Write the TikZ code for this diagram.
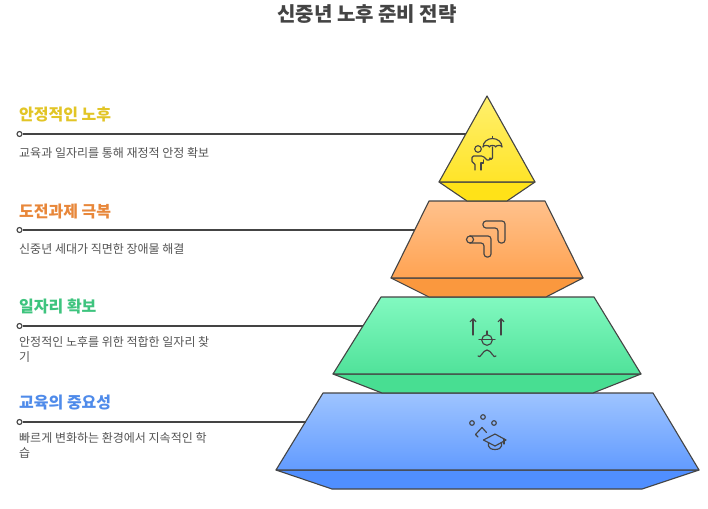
\documentclass[tikz,border=0pt]{standalone}
\usepackage{fontspec}
\setmainfont{Noto Sans CJK KR}
\usetikzlibrary{arrows.meta}
\definecolor{ink}{HTML}{444444}
\definecolor{desc}{HTML}{555555}
\definecolor{hy}{HTML}{E2C526}
\definecolor{ho}{HTML}{E8873A}
\definecolor{hg}{HTML}{3EC47E}
\definecolor{hb}{HTML}{4F8BEA}
\tikzset{
  face/.style={draw=ink, line width=1.1pt, line join=round},
  icon/.style={draw=ink, line width=1.15pt, line cap=round, line join=round},
  heading/.style={anchor=base west, inner sep=0pt, font=\fontsize{16}{19}\selectfont\bfseries},
  descr/.style={anchor=base west, inner sep=0pt, align=left, text=desc, font=\fontsize{12}{14.5}\selectfont},
  leader/.style={draw=ink, line width=1.3pt},
  dot/.style={circle, draw=ink, fill=white, line width=1.1pt, minimum size=5pt, inner sep=0pt},
}
\begin{document}
\begin{tikzpicture}[x=1pt, y=-1pt]
\useasboundingbox (0,0) rectangle (708,508);
\fill[white] (0,0) rectangle (708,508);

% title
\node[anchor=base, inner sep=0pt, text=ink, font=\fontsize{20}{24}\selectfont\bfseries] (title) at (367,22) {신중년 노후 준비 전략};

% ---------- blue level ----------
\path[face, fill={rgb,255:red,80;green,143;blue,255}] (276,470) -- (332,489) -- (642,489) -- (699,470) -- cycle;
\path[face, top color={rgb,255:red,158;green,196;blue,255}, bottom color={rgb,255:red,98;green,155;blue,255}] (323,393) -- (653,393) -- (699,470) -- (276,470) -- cycle;
% ---------- green level ----------
\path[face, fill={rgb,255:red,72;green,222;blue,146}] (333,374) -- (382,393) -- (593,393) -- (641,374) -- cycle;
\path[face, top color={rgb,255:red,130;green,249;blue,192}, bottom color={rgb,255:red,80;green,226;blue,154}] (381,297) -- (594,297) -- (641,374) -- (333,374) -- cycle;
% ---------- orange level ----------
\path[face, fill={rgb,255:red,250;green,152;blue,62}] (391,278) -- (429,297) -- (546,297) -- (583,278) -- cycle;
\path[face, top color={rgb,255:red,255;green,193;blue,140}, bottom color={rgb,255:red,255;green,163;blue,82}] (429,201) -- (545,201) -- (583,278) -- (391,278) -- cycle;
% ---------- yellow level ----------
\path[face, fill={rgb,255:red,255;green,226;blue,24}] (439,182) -- (467,201) -- (507,201) -- (535,182) -- cycle;
\path[face, top color={rgb,255:red,255;green,240;blue,110}, bottom color={rgb,255:red,255;green,228;blue,40}] (487,96) -- (535,182) -- (439,182) -- cycle;

% ---------- icons ----------
% person with umbrella
\draw[icon] (478,149) circle (3.3);
\draw[icon, rounded corners=1.5] (475,170) -- (475,163) -- (472,163) -- (472,156) -- (483,156) -- (488,161) -- (491,158);
\draw[icon] (481,170) -- (481,163) -- (483.5,163) -- (483.5,160);
\draw[icon] (483,147) arc (180:360:9.5 and 8.5);
\draw[icon] (483,147) arc (180:360:3.17 and 1.6) arc (180:360:3.17 and 1.6) arc (180:360:3.17 and 1.6);
\draw[icon] (492.5,138.5) -- (492.5,136.5);
\draw[icon] (492.5,147) -- (492.5,158) arc (0:180:1.5);
% two paths icon
\draw[icon, rounded corners=3] (483,221) -- (505,221) -- (505,243) -- (498,243) -- (498,228) -- (483,228) -- cycle;
\draw[icon, rounded corners=3] (470,236) -- (491,236) -- (491,257) -- (484,257) -- (484,243) -- (470,243);
\draw[icon] (470,239.5) circle (3.5);
% worker with arrows
\draw[icon, -{Straight Barb[length=3pt,width=6pt]}] (473,335) -- (473,318);
\draw[icon, -{Straight Barb[length=3pt,width=6pt]}] (501,335) -- (501,318);
\draw[icon] (487,340) circle (5.3);
\draw[icon] (479,339.5) -- (495,339.5);
\draw[icon] (487,331) -- (487,335);
\draw[icon] (478,356) to[out=-60,in=180] (487,350) to[out=0,in=-120] (496,356);
% learning icon
\draw[icon] (472,423) circle (2.3);
\draw[icon] (483,417) circle (2.3);
\draw[icon] (494,423) circle (2.3);
\draw[icon] (478,437) -- (475.5,434.5) -- (482,427.5) -- (486.5,432.5);
\draw[icon] (483.5,440) -- (495,434) -- (506,440) -- (495,446) -- cycle;
\draw[icon] (488.5,443) -- (488.5,446) arc (180:0:6.5 and 3.5) -- (501.5,443);
\draw[icon] (504,439) -- (504,444);

% ---------- labels and leaders ----------
\node[heading, text=hy] (h1) at (19,120.7) {안정적인 노후};
\node[dot] (d1) at (19.5,134) {};
\coordinate (e1) at (465.5,134);
\draw[leader] (d1) -- (e1);
\node[descr] (t1) at (19,157.2) {교육과 일자리를 통해 재정적 안정 확보};

\node[heading, text=ho] (h2) at (19,217) {도전과제 극복};
\node[dot] (d2) at (19.5,230) {};
\coordinate (e2) at (414.5,230);
\draw[leader] (d2) -- (e2);
\node[descr] (t2) at (19,253.6) {신중년 세대가 직면한 장애물 해결};

\node[heading, text=hg] (h3) at (19,312.2) {일자리 확보};
\node[dot] (d3) at (19.5,326) {};
\coordinate (e3) at (363,326);
\draw[leader] (d3) -- (e3);
\node[descr] (t3) at (19,361) {안정적인 노후를 위한 적합한 일자리 찾\\기};

\node[heading, text=hb] (h4) at (19,408.7) {교육의 중요성};
\node[dot] (d4) at (19.5,422) {};
\coordinate (e4) at (305.5,422);
\draw[leader] (d4) -- (e4);
\node[descr] (t4) at (19,457) {빠르게 변화하는 환경에서 지속적인 학\\습};
\end{tikzpicture}
\end{document}
